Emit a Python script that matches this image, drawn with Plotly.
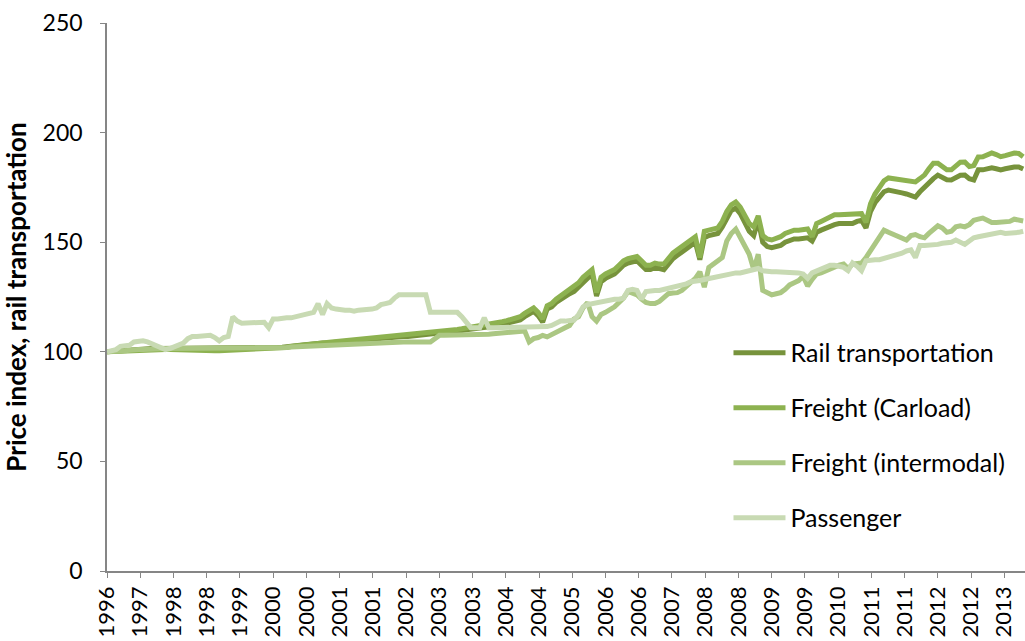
import plotly.graph_objects as go

# Monthly price indexes, Dec 1996 = 100 (205 monthly observations)
rail_transportation = [
    100, 100.2, 100.4, 100.6, 100.8, 101, 101, 101.2, 101.3, 101.4, 101.5, 101.5,
    101.5, 101.5, 101.5, 101.5, 101.5, 101.5, 101.5, 101.5, 101.5, 101.5, 101.6, 101.6,
    101.6, 101.7, 101.7, 101.8, 101.8, 101.8, 101.9, 102, 102, 102, 102, 102,
    102, 102, 102, 102.1, 102.2, 102.5, 102.7, 103, 103.2, 103.5, 103.6, 103.8,
    104, 104, 104.2, 104.4, 104.5, 104.7, 104.8, 105, 105.2, 105.4, 105.6, 105.8,
    106, 106.2, 106.3, 106.5, 106.6, 106.8, 107, 107, 107.2, 107.3, 107.5, 107.6,
    107.8, 108, 108.3, 108.6, 109, 109.2, 109.5, 109.7, 110, 110.2, 110.4, 110.6,
    111, 111.3, 111.6, 112, 112.5, 113, 113.5, 114, 114.5, 116, 117, 118.5,
    116.5, 113.5, 119.5, 120.5, 122.5, 124, 125, 126.5, 127.5, 129.5, 132, 134,
    135.5, 125.5, 132, 133.5, 134.5, 135.5, 137.5, 139.5, 140.5, 141, 141.5, 139.5,
    137.5, 137.5, 138.5, 138, 137.5, 140, 142.5, 144, 145.5, 147, 148.5, 150,
    142, 152, 153, 153.5, 154, 157, 161, 164.5, 165.5, 163, 159, 155,
    153, 160, 150, 148, 147.5, 148, 148.5, 150, 151, 151.5, 151.5, 152,
    152, 150.5, 154.5, 155.5, 156.5, 157, 158, 158.5, 158.5, 158.5, 158.5, 159.5,
    160, 156.5, 164, 168, 171, 173, 173.8, 173.5, 173, 172.5, 172, 171.5,
    170.6, 173, 175, 177.5, 179, 180.6, 179.5, 178.5, 178.4, 179.5, 180.5, 180.6,
    179, 178.4, 183, 183, 183.5, 183.9, 183.5, 183, 183.5, 184, 184.3, 184.3,
    183.4,
]

freight_carload = [
    100, 100.1, 100.3, 100.5, 100.6, 100.7, 100.8, 100.8, 100.9, 101, 101, 101,
    101, 101, 101, 100.9, 100.8, 100.7, 100.7, 100.6, 100.6, 100.5, 100.5, 100.5,
    100.5, 100.5, 100.6, 100.6, 100.7, 100.7, 100.8, 100.8, 100.9, 101, 101, 101,
    101.2, 101.4, 101.6, 101.8, 102, 102.4, 102.7, 103, 103.3, 103.6, 103.8, 104,
    104.2, 104.3, 104.5, 104.7, 104.9, 105.1, 105.3, 105.5, 105.7, 105.9, 106.1, 106.3,
    106.5, 106.7, 106.8, 107, 107.1, 107.3, 107.5, 107.6, 107.8, 108, 108.1, 108.3,
    108.5, 108.7, 109, 109.3, 109.6, 109.9, 110.2, 110.5, 110.8, 111.1, 111.4, 111.7,
    112, 112.4, 112.8, 113.2, 113.7, 114.2, 114.7, 115.3, 116, 117.5, 118.5, 120,
    118, 115, 121, 122, 124, 125.5, 126.5, 128, 129.5, 131.5, 134, 136,
    137.5, 127, 134, 135.5, 136.5, 137.5, 139.5, 141.5, 142.5, 143, 143.5, 141.5,
    139.5, 139.5, 140.5, 140, 140, 142.5, 145, 146.5, 148, 149.5, 151, 152.5,
    143, 155, 155.5, 156, 156.5, 159.5, 164, 167, 168.3, 166, 162, 158.5,
    157, 162, 153, 151.5, 151, 151.5, 152.5, 154, 155, 155.5, 155.5, 156,
    156, 152.5, 158.5, 159.5, 160.5, 161.5, 162.5, 162.5, 162.5, 162.5, 162.5, 163,
    163, 159, 167.5, 172, 175.5, 178, 179.3, 179, 178.5, 178, 177.8, 177.5,
    177.5, 179, 180.6, 183.5, 186, 186, 184.5, 183, 183, 184.5, 186.5, 186.6,
    184.5, 185, 188.9, 189, 190, 190.7, 190, 189, 189.5, 190, 190.7, 190.5,
    189,
]

freight_intermodal = [
    100, 100, 100.2, 100.5, 100.5, 100.7, 101, 101, 101, 101.2, 101.3, 101.5,
    101.5, 101.5, 101.5, 101.5, 101.7, 101.8, 102, 102, 102, 102, 102, 102,
    102, 102, 102, 102, 102, 102, 102, 102, 102, 102, 102, 102,
    102, 102, 102, 102, 102, 102.2, 102.3, 102.4, 102.5, 102.5, 102.7, 102.8,
    103, 103, 103, 103.2, 103.3, 103.5, 103.5, 103.6, 103.8, 104, 104, 104.2,
    104.3, 104.5, 104.5, 104.5, 104.5, 104.5, 104.5, 104.5, 104.5, 104.5, 104.5, 104.5,
    104.5, 106, 107.5, 107.5, 107.5, 107.5, 107.5, 107.7, 107.7, 107.7, 107.7, 107.8,
    108, 108, 108.2, 108.4, 108.5, 108.7, 108.8, 109, 109, 109.5, 104.5, 106,
    106.5, 107.5, 106.8, 108, 109, 110, 111, 112, 115, 116, 120, 122.5,
    116, 114, 117, 118, 119, 120.5, 122.5, 124.5, 127.5, 127, 126, 124,
    122.5, 122, 122, 123, 125, 126.5, 126.8, 127, 128, 130, 132, 133.5,
    136.5, 129.5, 138.5, 140, 142, 143, 150.5, 154, 156, 152, 148, 144.5,
    137.5, 144.5, 128, 127, 126, 126.5, 127, 128.5, 130.5, 131.5, 132.5, 134.5,
    130, 133, 135.5, 136, 137, 138, 139, 139.5, 140, 138, 140, 140.5,
    140.5, 143, 146, 149.5, 153, 155.5, 154.5, 153.5, 153, 152, 151, 153,
    153.5, 152.5, 152, 154, 156, 157.5, 156.5, 154.5, 155, 157, 157.5, 157,
    158, 160, 160.5, 161, 160, 159, 159, 159, 159, 159.5, 160.5, 160,
    159.7,
]

passenger = [
    100, 100.5, 101, 102.5, 102.5, 103, 104.5, 105, 105, 104.5, 103.5, 102.5,
    102, 101, 101.5, 102.5, 103, 104, 106, 107, 107, 107, 107, 107.5,
    106.5, 105, 106.5, 107, 116, 114, 113, 113, 113.5, 113.5, 113.5, 113.5,
    111, 115, 115, 115.5, 115.5, 115.5, 116, 116, 116.5, 117, 118, 122,
    117, 122, 120, 119.5, 119, 119, 119, 118.5, 119, 119, 119.5, 119.5,
    120, 121.5, 122, 122.5, 124.5, 126, 126, 126, 126, 126, 126, 126,
    118, 118, 118, 118, 118, 118, 118, 116, 113.5, 111, 111, 111,
    115.5, 111, 111, 111, 111, 111, 111, 111, 111, 111, 111, 111,
    111, 111, 111.5, 112, 113, 114, 114, 114, 114.5, 117, 120.5, 121.5,
    122, 122.5, 123, 123.5, 124, 124, 124, 124.5, 128, 128.5, 128, 124,
    127.5, 128, 128, 128, 128.5, 129, 129, 129.5, 130, 131, 132, 132,
    132.5, 133, 133.5, 134, 134.5, 135, 135, 135.5, 136, 136, 136.5, 137,
    137.5, 138, 137, 136.5, 136.5, 136.5, 136.5, 136, 136, 136, 136, 135.5,
    133.5, 136, 137, 138, 139, 139.5, 139.5, 139, 138.5, 137, 140.5, 139,
    137, 141.5, 142, 142, 142, 142.5, 143, 143.5, 144, 145, 146, 146.5,
    143, 148.5, 148.5, 148.5, 149, 149, 149.5, 149.5, 150, 151, 150, 149,
    150.5, 152, 152.5, 153, 153.5, 154, 154.5, 154.5, 154, 154, 154, 154.5,
    155,
]

# Category labels shown under the axis, one every 7.4 months
year_labels = [
    "1996", "1997", "1998", "1998", "1999", "2000", "2000", "2001", "2001", "2002",
    "2003", "2003", "2004", "2004", "2005", "2006", "2006", "2007", "2008", "2008",
    "2009", "2009", "2010", "2011", "2011", "2012", "2012", "2013",
]
label_step_months = 7.4

series = [
    ("Rail transportation", rail_transportation, "#77933c"),
    ("Freight (Carload)", freight_carload, "#8db250"),
    ("Freight (intermodal)", freight_intermodal, "#abc783"),
    ("Passenger", passenger, "#c8dab3"),
]

months = list(range(len(rail_transportation)))

fig = go.Figure()
for name, values, color in series:
    fig.add_trace(go.Scatter(
        x=months, y=values, mode="lines", name=name,
        legendgroup=name,
        line=dict(color=color, width=5),
    ))

font_family = "Lato, 'Open Sans', sans-serif"

fig.update_layout(
    width=1025, height=641,
    margin=dict(l=107, r=0, t=23, b=70),
    paper_bgcolor="white", plot_bgcolor="white",
    font=dict(family=font_family, color="#000000"),
    showlegend=True,
    legend=dict(
        x=0.677, y=0.44, xanchor="left", yanchor="top",
        bgcolor="rgba(0,0,0,0)",
        font=dict(size=25, family=font_family, color="#000000"),
        itemwidth=52,
        tracegroupgap=19.5,
    ),
    xaxis=dict(
        range=[0, 204.4],
        tickmode="array",
        tickvals=[i * label_step_months for i in range(len(year_labels))],
        ticktext=year_labels,
        tickangle=-90,
        tickfont=dict(size=22, family=font_family),
        showline=True, linecolor="#868686", linewidth=1.5,
        ticks="outside", ticklen=5, tickcolor="#868686",
        showgrid=False, zeroline=False,
    ),
    yaxis=dict(
        range=[0, 250],
        tick0=0, dtick=50,
        tickfont=dict(size=23, family=font_family),
        ticklabelstandoff=13,
        showline=True, linecolor="#868686", linewidth=1.5,
        ticks="outside", ticklen=5, tickcolor="#868686",
        showgrid=False, zeroline=False,
        title=dict(
            text="<b>Price index, rail transportation</b>",
            font=dict(size=26, family=font_family),
            standoff=10,
        ),
    ),
)

fig.write_html("out.html")
